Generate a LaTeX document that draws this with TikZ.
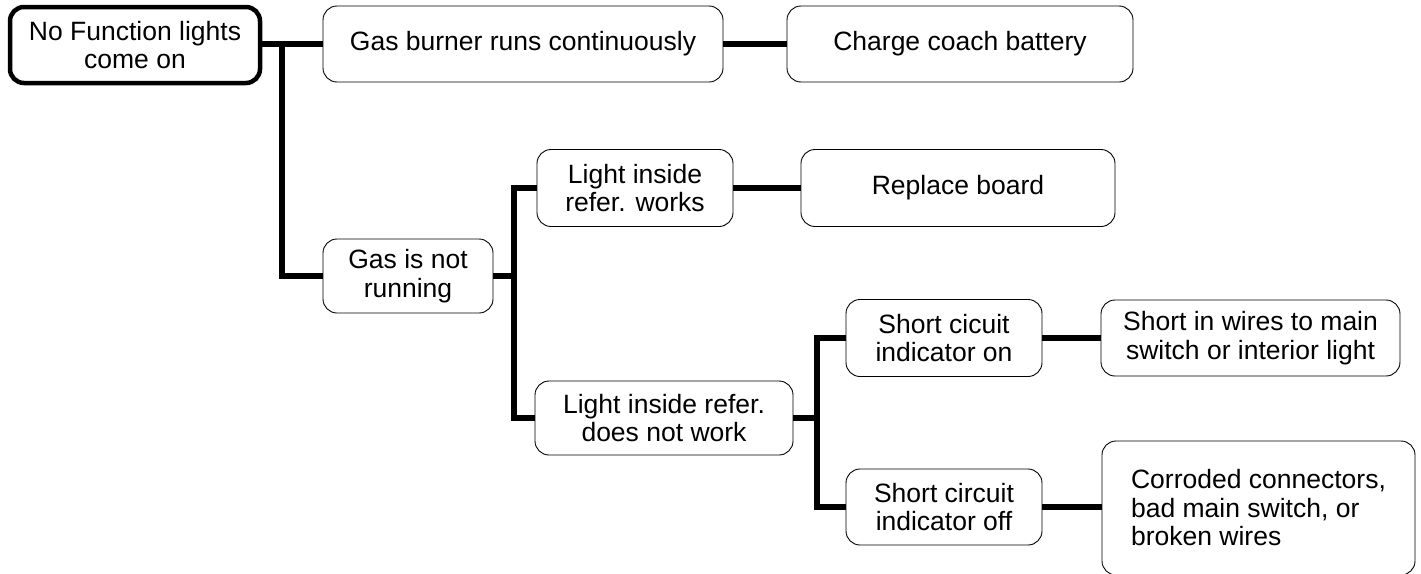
\documentclass[tikz,border=0pt]{standalone}
\usepackage{fontspec}
\setmainfont{Liberation Sans}
\begin{document}
\begin{tikzpicture}[x=1pt,y=-1pt,
  box/.style={draw, rounded corners=14pt, line width=0.9pt, align=center,
    font=\fontsize{26.5}{28.5}\selectfont, inner sep=0pt},
  rootbox/.style={box, line width=4.5pt},
  conn/.style={line width=5.5pt}]
\useasboundingbox (0,0) rectangle (1421,573);
\node[rootbox, minimum width=250pt, minimum height=76pt] (root) at (135,45) {No Function lights\\come on};
\node[box, minimum width=400pt, minimum height=76pt] (burner) at (523,44) {Gas burner runs continuously};
\node[box, minimum width=346pt, minimum height=76pt] (charge) at (960,44) {Charge coach battery};
\node[box, minimum width=170pt, minimum height=74pt] (gasnot) at (408,276) {Gas is not\\running};
\node[box, minimum width=196pt, minimum height=77pt] (works) at (635,188) {Light inside\\refer. works};
\node[box, minimum width=314pt, minimum height=77pt] (replace) at (958,188) {Replace board};
\node[box, minimum width=258pt, minimum height=74pt] (notwork) at (664,418) {Light inside refer.\\does not work};
\node[box, minimum width=196pt, minimum height=77pt] (scon) at (944,338) {Short cicuit\\indicator on};
\node[box, minimum width=299pt, minimum height=76pt] (wires) at (1250.5,338) {Short in wires to main\\switch or interior light};
\node[box, minimum width=196pt, minimum height=76pt] (scoff) at (944,507) {Short circuit\\indicator off};
\node[box, minimum width=313pt, minimum height=134pt, align=left] (corr) at (1258.5,508) {Corroded connectors,\\bad main switch, or\\broken wires};
\coordinate (j1) at (282,0);
\coordinate (j2) at (514,0);
\coordinate (j3) at (817,0);
\draw[conn] (root.east |- burner.west) -- (burner.west);
\draw[conn] (j1 |- burner.west) -- (j1 |- gasnot.west) -- (gasnot.west);
\draw[conn] (burner.east) -- (charge.west);
\draw[conn] (gasnot.east) -- (j2 |- gasnot.east);
\draw[conn] (works.west) -- (j2 |- works.west) -- (j2 |- notwork.west) -- (notwork.west);
\draw[conn] (works.east) -- (replace.west);
\draw[conn] (notwork.east) -- (j3 |- notwork.east);
\draw[conn] (scon.west) -- (j3 |- scon.west) -- (j3 |- scoff.west) -- (scoff.west);
\draw[conn] (scon.east) -- (wires.west);
\draw[conn] (scoff.east) -- (scoff.east -| corr.west);
\end{tikzpicture}
\end{document}
